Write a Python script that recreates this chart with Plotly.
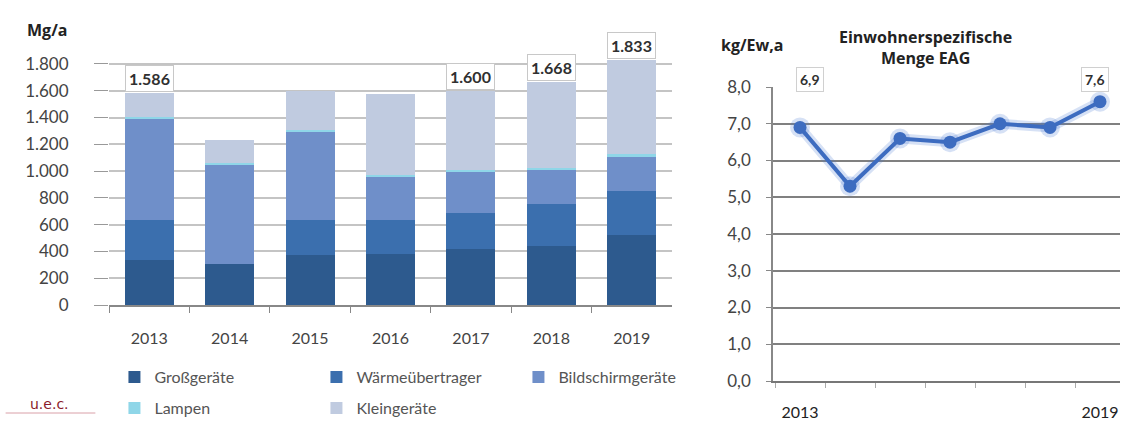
import plotly.graph_objects as go

# Daten
years = ["2013", "2014", "2015", "2016", "2017", "2018", "2019"]
gross = [333, 303, 370, 383, 420, 444, 525]
waerme = [303, 0, 266, 253, 270, 309, 325]
bildschirm = [757, 746, 659, 326, 309, 259, 262]
lampen = [12, 10, 12, 12, 12, 12, 14]
klein = [181, 175, 289, 604, 589, 644, 707]
totals = [1586, 1234, 1596, 1578, 1600, 1668, 1833]
label_years = ["2013", "2017", "2018", "2019"]
label_text = ["1.586", "1.600", "1.668", "1.833"]

ew_spez = [6.9, 5.3, 6.6, 6.5, 7.0, 6.9, 7.6]
ew_ticktext = ["2013", "", "", "", "", "", "2019"]

FONT = "Lato, 'Open Sans', sans-serif"
HEAD = "'Open Sans', Lato, sans-serif"
TXT = "#3a3a3a"

fig = go.Figure()

series = [
    ("Großgeräte", gross, "#2d5a8e", "legend"),
    ("Wärmeübertrager", waerme, "#3b6fae", "legend"),
    ("Bildschirmgeräte", bildschirm, "#6f8fc9", "legend"),
    ("Lampen", lampen, "#8fd6e8", "legend2"),
    ("Kleingeräte", klein, "#c0cbe0", "legend2"),
]
for name, vals, col, leg in series:
    fig.add_trace(go.Bar(x=years, y=vals, name=name, marker_color=col,
                         marker_line_width=0, legend=leg,
                         xaxis="x", yaxis="y"))

# glow + line
fig.add_trace(go.Scatter(x=years, y=ew_spez, mode="lines+markers",
                         line=dict(color="rgba(70,120,210,0.22)", width=10),
                         marker=dict(size=20, color="rgba(70,120,210,0.22)"),
                         showlegend=False, xaxis="x2", yaxis="y2", hoverinfo="skip"))
fig.add_trace(go.Scatter(x=years, y=ew_spez, mode="lines+markers",
                         line=dict(color="#3d6cc0", width=4),
                         marker=dict(size=13, color="#3d6cc0"),
                         showlegend=False, xaxis="x2", yaxis="y2"))

annotations = []
for yr, txt in zip(label_years, label_text):
    i = years.index(yr)
    annotations.append(dict(x=i, y=totals[i], xref="x", yref="y",
                            text="<b>" + txt + "</b>", showarrow=False,
                            yanchor="bottom", yshift=1,
                            font=dict(family=FONT, size=16, color="#303030"),
                            bgcolor="white", bordercolor="#c8c8c8", borderwidth=1,
                            borderpad=3))

annotations += [
    dict(x=0, y=ew_spez[0], xref="x2", yref="y2", text="<b>6,9</b>",
         showarrow=False, yshift=48, xshift=10,
         font=dict(family=FONT, size=14, color="#303030"),
         bgcolor="white", bordercolor="#d0d0d0", borderwidth=1, borderpad=3),
    dict(x=6, y=ew_spez[-1], xref="x2", yref="y2", text="<b>7,6</b>",
         showarrow=False, yshift=22, xshift=-5,
         font=dict(family=FONT, size=14, color="#303030"),
         bgcolor="white", bordercolor="#d0d0d0", borderwidth=1, borderpad=3),
    dict(x=0.022, y=1 - 30 / 421, xref="paper", yref="paper", text="<b>Mg/a</b>",
         showarrow=False, xanchor="left", yanchor="middle",
         font=dict(family=HEAD, size=16, color="#222")),
    dict(x=0.641, y=1 - 45 / 421, xref="paper", yref="paper", text="<b>kg/Ew,a</b>",
         showarrow=False, xanchor="left", yanchor="middle",
         font=dict(family=HEAD, size=16, color="#222")),
    dict(x=0.825, y=1 - 47 / 421, xref="paper", yref="paper",
         text="<b>Einwohnerspezifische<br>Menge EAG</b>",
         showarrow=False, xanchor="center", yanchor="middle",
         font=dict(family=HEAD, size=16, color="#222")),
    dict(x=0.025, y=1 - 404 / 421, xref="paper", yref="paper", text="u.e.c.",
         showarrow=False, xanchor="left", yanchor="middle",
         font=dict(family="DejaVu Sans, sans-serif", size=14, color="#8b1c2a")),
]

shapes = [
    dict(type="line", xref="paper", yref="paper", x0=0.005, x1=0.085,
         y0=1 - 413 / 421, y1=1 - 413 / 421, line=dict(color="#d9a0a8", width=1)),
]

fig.update_layout(
    width=1122, height=421,
    margin=dict(l=0, r=0, t=0, b=0, autoexpand=False),
    paper_bgcolor="white", plot_bgcolor="white",
    separators=",.",
    barmode="stack", bargap=0.39,
    font=dict(family=FONT, color=TXT),
    xaxis=dict(domain=[109 / 1122, 672 / 1122], type="category", range=[-0.5, 6.5],
               showline=True, linecolor="#888", linewidth=1.5,
               ticks="outside", tickson="boundaries", ticklen=6, tickcolor="#888",
               ticklabelstandoff=18,
               tickfont=dict(size=16, color="#444"), anchor="y"),
    yaxis=dict(domain=[1 - 305 / 421, 1 - 58.6 / 421], range=[0, 1840],
               tickvals=[0, 200, 400, 600, 800, 1000, 1200, 1400, 1600, 1800],
               tickformat=",d", showgrid=True, gridcolor="#c4c4c4", gridwidth=1.5,
               ticks="outside", ticklen=14, tickcolor="#999",
               ticklabelstandoff=22, zeroline=False,
               tickfont=dict(size=17, color="#444"), anchor="x"),
    xaxis2=dict(domain=[773 / 1122, 1120 / 1122], type="category",
                range=[-0.54, 6.4], tickvals=years, ticktext=ew_ticktext,
                showline=True, linecolor="#777", linewidth=1.5,
                ticks="outside", tickson="boundaries", ticklen=5, tickcolor="#aaa",
                ticklabelstandoff=16,
                tickfont=dict(size=16, color="#222"), anchor="y2"),
    yaxis2=dict(domain=[1 - 381 / 421, 1 - 87 / 421], range=[0, 8], dtick=1,
                tickformat=".1f", showgrid=True, gridcolor="#808080", gridwidth=1.5,
                showline=True, linecolor="#888", linewidth=1.5,
                ticks="outside", ticklen=5, tickcolor="#888", zeroline=False,
                ticklabelstandoff=12,
                tickfont=dict(size=17, color="#444"), anchor="x2"),
    legend=dict(orientation="h", x=0.102, y=1 - 377 / 421, yanchor="middle",
                xanchor="left", entrywidth=157, entrywidthmode="pixels",
                traceorder="normal",
                font=dict(size=16, color="#555"), bgcolor="rgba(0,0,0,0)"),
    legend2=dict(orientation="h", x=0.102, y=1 - 408 / 421, yanchor="middle",
                 xanchor="left", entrywidth=157, entrywidthmode="pixels",
                 traceorder="normal",
                 font=dict(size=16, color="#555"), bgcolor="rgba(0,0,0,0)"),
    annotations=annotations,
    shapes=shapes,
)

fig.write_html("out.html", config={"displayModeBar": False},
               post_script="document.body.style.margin='0';")
